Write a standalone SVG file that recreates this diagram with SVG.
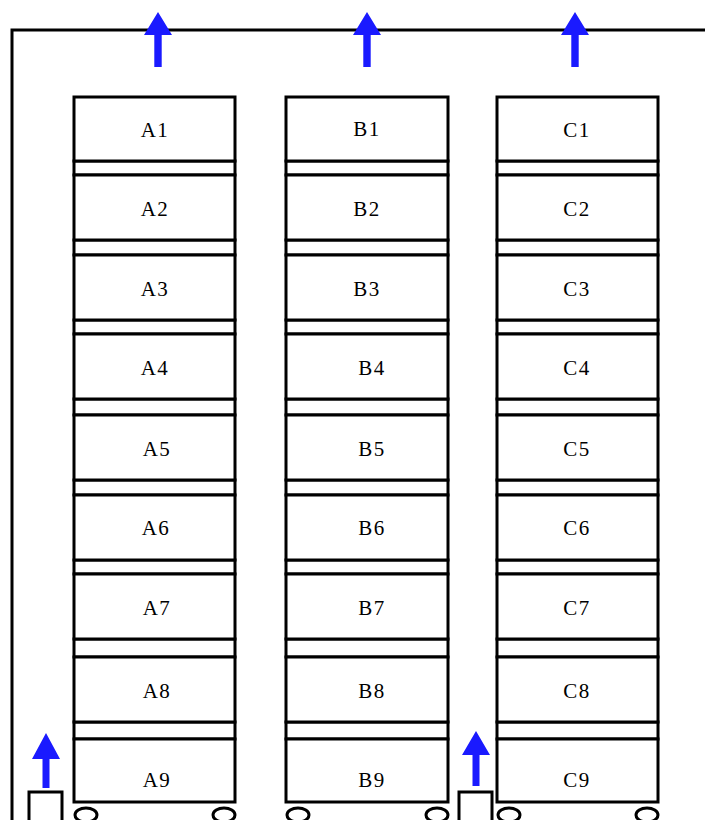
<svg xmlns="http://www.w3.org/2000/svg" width="705" height="820" viewBox="0 0 705 820">
<defs>
<style>
.ln{fill:none;stroke:#000;stroke-width:3}
.bx{fill:#fff;stroke:#000;stroke-width:3}
.lb{font-family:"Liberation Serif","Times New Roman",serif;font-size:21px;fill:#000;text-anchor:middle;letter-spacing:1.5px}
.ar{fill:#1a1aff}
</style>
<symbol id="arrow" overflow="visible"><path class="ar" d="M0,0 L14,23 L3.7,23 L3.7,55 L-3.7,55 L-3.7,23 L-14,23 Z"/></symbol>
</defs>
<rect width="705" height="820" fill="#fff"/>
<g id="connectors">
<path class="ln" d="M12,820 L12,30 L705,30"/>
<use href="#arrow" x="158" y="12"/>
<use href="#arrow" x="367" y="12"/>
<use href="#arrow" x="575" y="12"/>
<path class="ar" d="M46,733 L60,759 L49.5,759 L49.5,788 L42.5,788 L42.5,759 L32,759 Z"/>
<path class="ar" d="M476,731 L490,755 L479.5,755 L479.5,786 L472.5,786 L472.5,755 L462,755 Z"/>
</g>
<g id="stations">
<rect class="bx" x="29" y="792" width="33" height="40"/>
<rect class="bx" x="459" y="792" width="33" height="40"/>
</g>
<g id="columnA">
<rect class="bx" x="74" y="161" width="161" height="14"/>
<rect class="bx" x="74" y="240" width="161" height="15"/>
<rect class="bx" x="74" y="320" width="161" height="14"/>
<rect class="bx" x="74" y="399" width="161" height="16"/>
<rect class="bx" x="74" y="480" width="161" height="15"/>
<rect class="bx" x="74" y="560" width="161" height="14"/>
<rect class="bx" x="74" y="639" width="161" height="18"/>
<rect class="bx" x="74" y="722" width="161" height="17"/>
<g id="A1"><rect class="bx" x="74" y="97" width="161" height="64"/><text class="lb" x="155" y="137">A1</text></g>
<g id="A2"><rect class="bx" x="74" y="175" width="161" height="65"/><text class="lb" x="155" y="216">A2</text></g>
<g id="A3"><rect class="bx" x="74" y="255" width="161" height="65"/><text class="lb" x="155" y="296">A3</text></g>
<g id="A4"><rect class="bx" x="74" y="334" width="161" height="65"/><text class="lb" x="155" y="375">A4</text></g>
<g id="A5"><rect class="bx" x="74" y="415" width="161" height="65"/><text class="lb" x="157" y="456">A5</text></g>
<g id="A6"><rect class="bx" x="74" y="495" width="161" height="65"/><text class="lb" x="156" y="535">A6</text></g>
<g id="A7"><rect class="bx" x="74" y="574" width="161" height="65"/><text class="lb" x="157" y="615">A7</text></g>
<g id="A8"><rect class="bx" x="74" y="657" width="161" height="65"/><text class="lb" x="157" y="698">A8</text></g>
<g id="A9"><rect class="bx" x="74" y="739" width="161" height="63"/><text class="lb" x="157" y="787">A9</text></g>
<ellipse class="bx" cx="86" cy="815" rx="11" ry="7"/>
<ellipse class="bx" cx="224" cy="815" rx="11" ry="7"/>
</g>
<g id="columnB">
<rect class="bx" x="286" y="161" width="162" height="14"/>
<rect class="bx" x="286" y="240" width="162" height="15"/>
<rect class="bx" x="286" y="320" width="162" height="14"/>
<rect class="bx" x="286" y="399" width="162" height="16"/>
<rect class="bx" x="286" y="480" width="162" height="15"/>
<rect class="bx" x="286" y="560" width="162" height="14"/>
<rect class="bx" x="286" y="639" width="162" height="18"/>
<rect class="bx" x="286" y="722" width="162" height="17"/>
<g id="B1"><rect class="bx" x="286" y="97" width="162" height="64"/><text class="lb" x="367" y="136">B1</text></g>
<g id="B2"><rect class="bx" x="286" y="175" width="162" height="65"/><text class="lb" x="367" y="216">B2</text></g>
<g id="B3"><rect class="bx" x="286" y="255" width="162" height="65"/><text class="lb" x="367" y="296">B3</text></g>
<g id="B4"><rect class="bx" x="286" y="334" width="162" height="65"/><text class="lb" x="372" y="375">B4</text></g>
<g id="B5"><rect class="bx" x="286" y="415" width="162" height="65"/><text class="lb" x="372" y="456">B5</text></g>
<g id="B6"><rect class="bx" x="286" y="495" width="162" height="65"/><text class="lb" x="372" y="535">B6</text></g>
<g id="B7"><rect class="bx" x="286" y="574" width="162" height="65"/><text class="lb" x="372" y="615">B7</text></g>
<g id="B8"><rect class="bx" x="286" y="657" width="162" height="65"/><text class="lb" x="372" y="698">B8</text></g>
<g id="B9"><rect class="bx" x="286" y="739" width="162" height="63"/><text class="lb" x="372" y="787">B9</text></g>
<ellipse class="bx" cx="298" cy="815" rx="11" ry="7"/>
<ellipse class="bx" cx="437" cy="815" rx="11" ry="7"/>
</g>
<g id="columnC">
<rect class="bx" x="497" y="161" width="161" height="14"/>
<rect class="bx" x="497" y="240" width="161" height="15"/>
<rect class="bx" x="497" y="320" width="161" height="14"/>
<rect class="bx" x="497" y="399" width="161" height="16"/>
<rect class="bx" x="497" y="480" width="161" height="15"/>
<rect class="bx" x="497" y="560" width="161" height="14"/>
<rect class="bx" x="497" y="639" width="161" height="18"/>
<rect class="bx" x="497" y="722" width="161" height="17"/>
<g id="C1"><rect class="bx" x="497" y="97" width="161" height="64"/><text class="lb" x="577" y="137">C1</text></g>
<g id="C2"><rect class="bx" x="497" y="175" width="161" height="65"/><text class="lb" x="577" y="216">C2</text></g>
<g id="C3"><rect class="bx" x="497" y="255" width="161" height="65"/><text class="lb" x="577" y="296">C3</text></g>
<g id="C4"><rect class="bx" x="497" y="334" width="161" height="65"/><text class="lb" x="577" y="375">C4</text></g>
<g id="C5"><rect class="bx" x="497" y="415" width="161" height="65"/><text class="lb" x="577" y="456">C5</text></g>
<g id="C6"><rect class="bx" x="497" y="495" width="161" height="65"/><text class="lb" x="577" y="535">C6</text></g>
<g id="C7"><rect class="bx" x="497" y="574" width="161" height="65"/><text class="lb" x="577" y="615">C7</text></g>
<g id="C8"><rect class="bx" x="497" y="657" width="161" height="65"/><text class="lb" x="577" y="698">C8</text></g>
<g id="C9"><rect class="bx" x="497" y="739" width="161" height="63"/><text class="lb" x="577" y="787">C9</text></g>
<ellipse class="bx" cx="509" cy="815" rx="11" ry="7"/>
<ellipse class="bx" cx="647" cy="815" rx="11" ry="7"/>
</g>
</svg>
